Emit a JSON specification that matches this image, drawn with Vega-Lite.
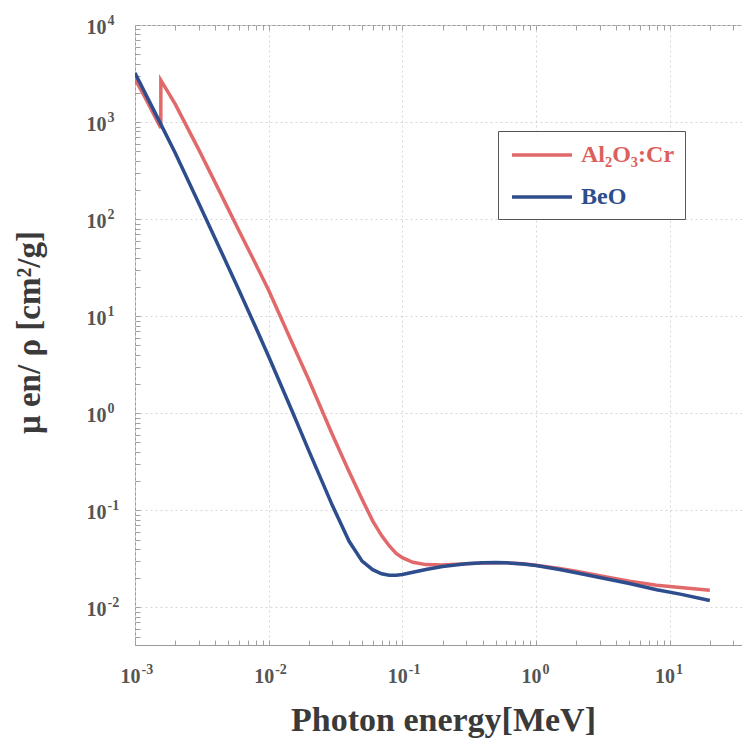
{
  "$schema": "https://vega.github.io/schema/vega-lite/v6.json",
  "width": 608,
  "height": 620,
  "autosize": "none",
  "padding": {"left": 135, "top": 25, "right": 0, "bottom": 99},
  "background": "white",
  "config": {
    "view": {"stroke": "#9a9a9a", "strokeWidth": 1},
    "font": "Liberation Serif"
  },
  "resolve": {"axis": {"x": "independent", "y": "independent"}},
  "data": {
    "values": [
      {"m": "Al₂O₃:Cr", "i": 1, "E": 0.001, "mu": 2780},
      {"m": "Al₂O₃:Cr", "i": 2, "E": 0.0012, "mu": 1750},
      {"m": "Al₂O₃:Cr", "i": 3, "E": 0.0015, "mu": 960},
      {"m": "Al₂O₃:Cr", "i": 4, "E": 0.00156, "mu": 870},
      {"m": "Al₂O₃:Cr", "i": 5, "E": 0.001561, "mu": 2700},
      {"m": "Al₂O₃:Cr", "i": 6, "E": 0.002, "mu": 1530},
      {"m": "Al₂O₃:Cr", "i": 7, "E": 0.003, "mu": 520},
      {"m": "Al₂O₃:Cr", "i": 8, "E": 0.004, "mu": 235},
      {"m": "Al₂O₃:Cr", "i": 9, "E": 0.005, "mu": 126},
      {"m": "Al₂O₃:Cr", "i": 10, "E": 0.006, "mu": 76},
      {"m": "Al₂O₃:Cr", "i": 11, "E": 0.008, "mu": 34.5},
      {"m": "Al₂O₃:Cr", "i": 12, "E": 0.01, "mu": 18.5},
      {"m": "Al₂O₃:Cr", "i": 13, "E": 0.015, "mu": 5.3},
      {"m": "Al₂O₃:Cr", "i": 14, "E": 0.02, "mu": 2.2},
      {"m": "Al₂O₃:Cr", "i": 15, "E": 0.03, "mu": 0.6},
      {"m": "Al₂O₃:Cr", "i": 16, "E": 0.04, "mu": 0.25},
      {"m": "Al₂O₃:Cr", "i": 17, "E": 0.05, "mu": 0.13},
      {"m": "Al₂O₃:Cr", "i": 18, "E": 0.06, "mu": 0.078},
      {"m": "Al₂O₃:Cr", "i": 19, "E": 0.07, "mu": 0.055},
      {"m": "Al₂O₃:Cr", "i": 20, "E": 0.08, "mu": 0.043},
      {"m": "Al₂O₃:Cr", "i": 21, "E": 0.09, "mu": 0.036},
      {"m": "Al₂O₃:Cr", "i": 22, "E": 0.1, "mu": 0.0325},
      {"m": "Al₂O₃:Cr", "i": 23, "E": 0.12, "mu": 0.0292},
      {"m": "Al₂O₃:Cr", "i": 24, "E": 0.15, "mu": 0.0276},
      {"m": "Al₂O₃:Cr", "i": 25, "E": 0.2, "mu": 0.0273},
      {"m": "Al₂O₃:Cr", "i": 26, "E": 0.3, "mu": 0.0281},
      {"m": "Al₂O₃:Cr", "i": 27, "E": 0.4, "mu": 0.0287},
      {"m": "Al₂O₃:Cr", "i": 28, "E": 0.5, "mu": 0.0289},
      {"m": "Al₂O₃:Cr", "i": 29, "E": 0.6, "mu": 0.0288},
      {"m": "Al₂O₃:Cr", "i": 30, "E": 0.8, "mu": 0.0281},
      {"m": "Al₂O₃:Cr", "i": 31, "E": 1.0, "mu": 0.0272},
      {"m": "Al₂O₃:Cr", "i": 32, "E": 1.5, "mu": 0.0252},
      {"m": "Al₂O₃:Cr", "i": 33, "E": 2.0, "mu": 0.0236},
      {"m": "Al₂O₃:Cr", "i": 34, "E": 3.0, "mu": 0.0212},
      {"m": "Al₂O₃:Cr", "i": 35, "E": 5.0, "mu": 0.0186},
      {"m": "Al₂O₃:Cr", "i": 36, "E": 8.0, "mu": 0.0169},
      {"m": "Al₂O₃:Cr", "i": 37, "E": 12, "mu": 0.016},
      {"m": "Al₂O₃:Cr", "i": 38, "E": 20, "mu": 0.015},
      {"m": "BeO", "i": 1, "E": 0.001, "mu": 3200},
      {"m": "BeO", "i": 2, "E": 0.0015, "mu": 1060},
      {"m": "BeO", "i": 3, "E": 0.002, "mu": 480},
      {"m": "BeO", "i": 4, "E": 0.003, "mu": 146},
      {"m": "BeO", "i": 5, "E": 0.004, "mu": 62},
      {"m": "BeO", "i": 6, "E": 0.005, "mu": 32},
      {"m": "BeO", "i": 7, "E": 0.006, "mu": 18.5},
      {"m": "BeO", "i": 8, "E": 0.008, "mu": 7.7},
      {"m": "BeO", "i": 9, "E": 0.01, "mu": 3.85},
      {"m": "BeO", "i": 10, "E": 0.015, "mu": 1.05},
      {"m": "BeO", "i": 11, "E": 0.02, "mu": 0.41},
      {"m": "BeO", "i": 12, "E": 0.03, "mu": 0.112},
      {"m": "BeO", "i": 13, "E": 0.04, "mu": 0.048},
      {"m": "BeO", "i": 14, "E": 0.05, "mu": 0.03},
      {"m": "BeO", "i": 15, "E": 0.06, "mu": 0.0245},
      {"m": "BeO", "i": 16, "E": 0.07, "mu": 0.0222},
      {"m": "BeO", "i": 17, "E": 0.08, "mu": 0.0215},
      {"m": "BeO", "i": 18, "E": 0.09, "mu": 0.0214},
      {"m": "BeO", "i": 19, "E": 0.1, "mu": 0.0218},
      {"m": "BeO", "i": 20, "E": 0.12, "mu": 0.023},
      {"m": "BeO", "i": 21, "E": 0.15, "mu": 0.0246},
      {"m": "BeO", "i": 22, "E": 0.2, "mu": 0.0264},
      {"m": "BeO", "i": 23, "E": 0.3, "mu": 0.0282},
      {"m": "BeO", "i": 24, "E": 0.4, "mu": 0.0289},
      {"m": "BeO", "i": 25, "E": 0.5, "mu": 0.029},
      {"m": "BeO", "i": 26, "E": 0.6, "mu": 0.0288},
      {"m": "BeO", "i": 27, "E": 0.8, "mu": 0.028},
      {"m": "BeO", "i": 28, "E": 1.0, "mu": 0.027},
      {"m": "BeO", "i": 29, "E": 1.5, "mu": 0.0246},
      {"m": "BeO", "i": 30, "E": 2.0, "mu": 0.0228},
      {"m": "BeO", "i": 31, "E": 3.0, "mu": 0.0203},
      {"m": "BeO", "i": 32, "E": 5.0, "mu": 0.0176},
      {"m": "BeO", "i": 33, "E": 8.0, "mu": 0.0152},
      {"m": "BeO", "i": 34, "E": 12, "mu": 0.0137},
      {"m": "BeO", "i": 35, "E": 20, "mu": 0.0118}
    ]
  },
  "layer": [
    {
      "mark": {"type": "line", "strokeWidth": 3.5, "clip": true},
      "encoding": {
        "x": {
          "field": "E", "type": "quantitative",
          "scale": {"type": "log", "domain": [0.001, 35.4], "nice": false},
          "axis": {
            "orient": "bottom",
            "values": [0.001,0.002,0.003,0.004,0.005,0.006,0.007,0.008,0.009,0.01,0.02,0.03,0.04,0.05,0.06,0.07,0.08,0.09,0.1,0.2,0.3,0.4,0.5,0.6,0.7,0.8,0.9,1,2,3,4,5,6,7,8,9,10,20,30],
            "labelExpr": "(datum.value==0.001||datum.value==0.01||datum.value==0.1||datum.value==1||datum.value==10)?'10':''",
            "domain": false,
            "tickSize": -5,
            "tickColor": "#a0a0a0",
            "labelFont": "Liberation Serif",
            "labelFontSize": 20,
            "labelFontWeight": "bold",
            "labelColor": "#555555",
            "labelFlush": false,
            "labelOverlap": false,
            "labelBound": false,
            "labelPadding": 42,
            "labelBaseline": "alphabetic",
            "labelAlign": "right",
            "labelOffset": 5,
            "grid": true,
            "gridColor": {"condition": {"test": "abs(log(datum.value)/LN10 - round(log(datum.value)/LN10)) < 0.001", "value": "#d6d6d6"}, "value": "rgba(0,0,0,0)"},
            "gridDash": [2, 3],
            "title": "Photon energy[MeV]",
            "titleFont": "Liberation Serif",
            "titleFontSize": 34,
            "titleFontWeight": "bold",
            "titleColor": "#3a3a3a",
            "titleX": 308,
            "titleY": 85,
            "titleBaseline": "alphabetic"
          }
        },
        "y": {
          "field": "mu", "type": "quantitative",
          "scale": {"type": "log", "domain": [0.0041, 10000], "nice": false},
          "axis": {
            "orient": "left",
            "values": [0.005,0.006,0.007,0.008,0.009,0.01,0.02,0.03,0.04,0.05,0.06,0.07,0.08,0.09,0.1,0.2,0.3,0.4,0.5,0.6,0.7,0.8,0.9,1,2,3,4,5,6,7,8,9,10,20,30,40,50,60,70,80,90,100,200,300,400,500,600,700,800,900,1000,2000,3000,4000,5000,6000,7000,8000,9000,10000],
            "labelExpr": "(datum.value==10000||datum.value==1000||datum.value==100||datum.value==10||datum.value==1||datum.value==0.1||datum.value==0.01)?'10':''",
            "domain": false,
            "tickSize": -5,
            "tickColor": "#a0a0a0",
            "labelFont": "Liberation Serif",
            "labelFontSize": 20,
            "labelFontWeight": "bold",
            "labelColor": "#555555",
            "labelFlush": false,
            "labelOverlap": false,
            "labelBound": false,
            "labelPadding": 34,
            "labelAlign": "right",
            "labelBaseline": "middle",
            "labelOffset": 2,
            "grid": true,
            "gridColor": {"condition": {"test": "abs(log(datum.value)/LN10 - round(log(datum.value)/LN10)) < 0.001", "value": "#d6d6d6"}, "value": "rgba(0,0,0,0)"},
            "gridDash": [2, 3],
            "title": "μ en/ ρ [cm²/g]",
            "titleFont": "Liberation Serif",
            "titleFontSize": 33,
            "titleFontWeight": "bold",
            "titleColor": "#3a3a3a",
            "titleX": -106,
            "titleY": 307,
            "titleBaseline": "middle"
          }
        },
        "color": {
          "field": "m", "type": "nominal",
          "scale": {"domain": ["Al₂O₃:Cr", "BeO"], "range": ["#e2696a", "#2d4d8c"]},
          "legend": {
            "orient": "none",
            "legendX": 363,
            "legendY": 106,
            "title": null,
            "fillColor": "white",
            "strokeColor": "#555555",
            "padding": 10,
            "symbolType": "M-2.5,0H2.5",
            "symbolSize": 576,
            "symbolStrokeWidth": 3.5,
            "symbolOffset": 20,
            "labelOffset": 25,
            "rowPadding": 16,
            "labelFont": "Liberation Serif",
            "labelFontSize": 24,
            "labelFontWeight": "bold",
            "encode": {"labels": {"update": {"fill": {"signal": "datum.label == 'BeO' ? '#2d4d8c' : '#dc5f5c'"}}}}
          }
        },
        "order": {"field": "i", "type": "quantitative"}
      }
    },
    {
      "mark": {"type": "line", "opacity": 0},
      "encoding": {
        "x": {
          "field": "E", "type": "quantitative",
          "axis": {
            "orient": "top",
            "values": [0.001,0.002,0.003,0.004,0.005,0.006,0.007,0.008,0.009,0.01,0.02,0.03,0.04,0.05,0.06,0.07,0.08,0.09,0.1,0.2,0.3,0.4,0.5,0.6,0.7,0.8,0.9,1,2,3,4,5,6,7,8,9,10,20,30],
            "labels": false, "domain": false, "grid": false,
            "tickSize": -5, "tickColor": "#a0a0a0", "title": null
          }
        },
        "y": {
          "field": "mu", "type": "quantitative",
          "axis": {
            "orient": "left",
            "values": [0.01,0.1,1,10,100,1000,10000],
            "labelExpr": "datum.value==10000?'4':datum.value==1000?'3':datum.value==100?'2':datum.value==10?'1':datum.value==1?'0':datum.value==0.1?'-1':'-2'",
            "domain": false, "grid": false, "title": null,
            "ticks": true, "tickSize": -5, "tickColor": "rgba(0,0,0,0)",
            "labelFont": "Liberation Serif",
            "labelFontSize": 14,
            "labelFontWeight": "bold",
            "labelColor": "#555555",
            "labelFlush": false,
            "labelOverlap": false,
            "labelBound": false,
            "labelPadding": 33,
            "labelAlign": "left",
            "labelBaseline": "middle",
            "labelOffset": -5
          }
        }
      }
    },
    {
      "mark": {"type": "line", "opacity": 0},
      "encoding": {
        "x": {
          "field": "E", "type": "quantitative",
          "axis": {
            "orient": "bottom",
            "values": [0.001,0.01,0.1,1,10],
            "labelExpr": "datum.value==0.001?'-3':datum.value==0.01?'-2':datum.value==0.1?'-1':datum.value==1?'0':'1'",
            "domain": false, "grid": false, "title": null,
            "ticks": true, "tickSize": -5, "tickColor": "rgba(0,0,0,0)",
            "labelFont": "Liberation Serif",
            "labelFontSize": 14,
            "labelFontWeight": "bold",
            "labelColor": "#555555",
            "labelFlush": false,
            "labelOverlap": false,
            "labelBound": false,
            "labelPadding": 33,
            "labelBaseline": "alphabetic",
            "labelAlign": "left",
            "labelOffset": 6
          }
        },
        "y": {"field": "mu", "type": "quantitative", "axis": null}
      }
    }
  ]
}
